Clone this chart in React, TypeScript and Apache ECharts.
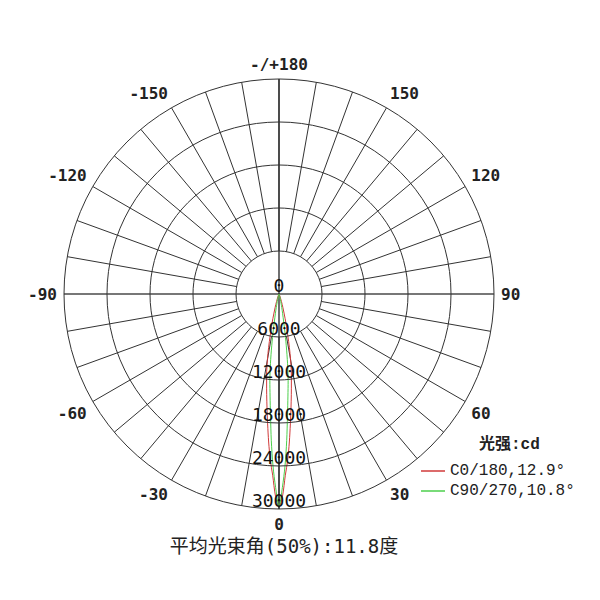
import { useEffect, useRef } from 'react'
import * as echarts from 'echarts'

// angles in degrees, 0 = straight down, negative to the left
const angles = [
  -40, -30, -25, -20, -18, -16, -14, -13, -12, -11, -10, -9, -8, -7, -6, -5, -4, -3, -2, -1,
  0, 1, 2, 3, 4, 5, 6, 7, 8, 9, 10, 11, 12, 13, 14, 16, 18, 20, 25, 30, 40,
]
// candela
const c0Values = [
  0, 80, 200, 600, 1100, 2000, 3500, 4600, 5900, 7600, 9300, 11000, 12400, 14100, 16000, 18200, 20700, 23200, 25300, 28200,
  29700, 28200, 25300, 23200, 20700, 18200, 16000, 14100, 12400, 11000, 9300, 7600, 5900, 4600, 3500, 2000, 1100, 600, 200, 80, 0,
]
const c90Values = [
  0, 40, 80, 150, 250, 400, 800, 1100, 1600, 2300, 3300, 5000, 7300, 9800, 12200, 14300, 17000, 20500, 24000, 27000,
  29700, 27000, 24000, 20500, 17000, 14300, 12200, 9800, 7300, 5000, 3300, 2300, 1600, 1100, 800, 400, 250, 150, 80, 40, 0,
]
const seriesNames = ['C0/180,12.9°', 'C90/270,10.8°']
const radiusTicks = { min: 0, max: 30000, step: 6000 }
const angleLabels = [0, 30, 60, 90, 120, 150, 180, 210, 240, 270, 300, 330]

const CENTER = [279, 294]
const R = 215
const GRID = '#333'

const toPolar = (vals: number[]) =>
  vals.map((v, i) => [v, angles[i] < 0 ? angles[i] + 360 : angles[i]])

function angleText(v: number) {
  if (!angleLabels.includes(v)) return ''
  if (v === 180) return '-/+180'
  return String(v > 180 ? v - 360 : v)
}

export default function App() {
  const ref = useRef<HTMLDivElement | null>(null)

  useEffect(() => {
    document.body.style.margin = '0'
    if (!ref.current) return
    const chart = echarts.init(ref.current, undefined, { renderer: 'svg' })
    const angleBase = {
      type: 'value',
      min: 0,
      max: 360,
      interval: 10,
      startAngle: -90,
      clockwise: false,
      axisTick: { show: false },
      axisLine: { show: false },
    }
    chart.setOption({
      animation: false,
      title: [
        {
          text: '平均光束角(50%):11.8度',
          left: 279,
          top: 531,
          textAlign: 'center',
          textStyle: {
            fontFamily: '"DejaVu Sans Mono", "Noto Sans CJK SC"',
            fontSize: 19,
            fontWeight: 'normal',
            color: '#222',
          },
        },
        {
          text: '光强:cd',
          left: 474,
          top: 432,
          textStyle: {
            fontFamily: '"Liberation Mono", "Noto Sans CJK SC"',
            fontSize: 16,
            fontWeight: 'bold',
            color: '#222',
          },
        },
      ],
      legend: {
        data: seriesNames,
        orient: 'vertical',
        left: 416,
        top: 458,
        icon: 'rect',
        itemWidth: 24,
        itemHeight: 1.5,
        itemGap: 4,
        textStyle: { fontFamily: '"Liberation Mono"', fontSize: 16, color: '#222' },
      },
      polar: [
        { center: CENTER, radius: [0, R] },
        { center: CENTER, radius: [43, R] },
      ],
      angleAxis: [
        { ...angleBase, polarIndex: 0, axisLabel: { show: false }, splitLine: { show: false } },
        {
          ...angleBase,
          polarIndex: 1,
          splitLine: { show: true, lineStyle: { color: GRID, width: 1 } },
          axisLabel: {
            margin: 7,
            formatter: angleText,
            fontFamily: '"DejaVu Sans Mono"',
            fontWeight: 'bold',
            fontSize: 16,
            color: '#222',
          },
        },
      ],
      radiusAxis: [
        {
          polarIndex: 0,
          type: 'value',
          min: radiusTicks.min,
          max: radiusTicks.max,
          interval: radiusTicks.step,
          axisLine: { show: false },
          axisTick: { show: false },
          splitLine: { show: true, lineStyle: { color: GRID, width: 1 } },
          axisLabel: {
            margin: 0,
            align: 'center',
            verticalAlign: 'bottom',
            formatter: (v: number) => String(v),
            fontFamily: '"DejaVu Sans Mono"',
            fontSize: 18,
            color: '#111',
          },
          z: 5,
        },
        { polarIndex: 1, type: 'value', min: 0, max: 1, show: false },
      ],
      series: [
        {
          type: 'line',
          coordinateSystem: 'polar',
          polarIndex: 0,
          silent: true,
          symbol: 'none',
          lineStyle: { color: '#777', width: 2 },
          data: [[30000, 270], [0, 0], [30000, 90]],
        },
        {
          type: 'line',
          coordinateSystem: 'polar',
          polarIndex: 0,
          silent: true,
          symbol: 'none',
          lineStyle: { color: '#222', width: 1.3 },
          data: [[30000, 180], [0, 0], [30000, 0]],
        },
        {
          name: seriesNames[0],
          type: 'line',
          coordinateSystem: 'polar',
          polarIndex: 0,
          symbol: 'none',
          smooth: 0.3,
          itemStyle: { color: '#d03a3a' },
          lineStyle: { color: '#d03a3a', width: 1 },
          data: toPolar(c0Values),
        },
        {
          name: seriesNames[1],
          type: 'line',
          coordinateSystem: 'polar',
          polarIndex: 0,
          symbol: 'none',
          smooth: 0.3,
          itemStyle: { color: '#4ccf4c' },
          lineStyle: { color: '#4ccf4c', width: 1 },
          data: toPolar(c90Values),
        },
      ],
    })
    return () => chart.dispose()
  }, [])

  return <div ref={ref} style={{ width: 600, height: 600 }} />
}
